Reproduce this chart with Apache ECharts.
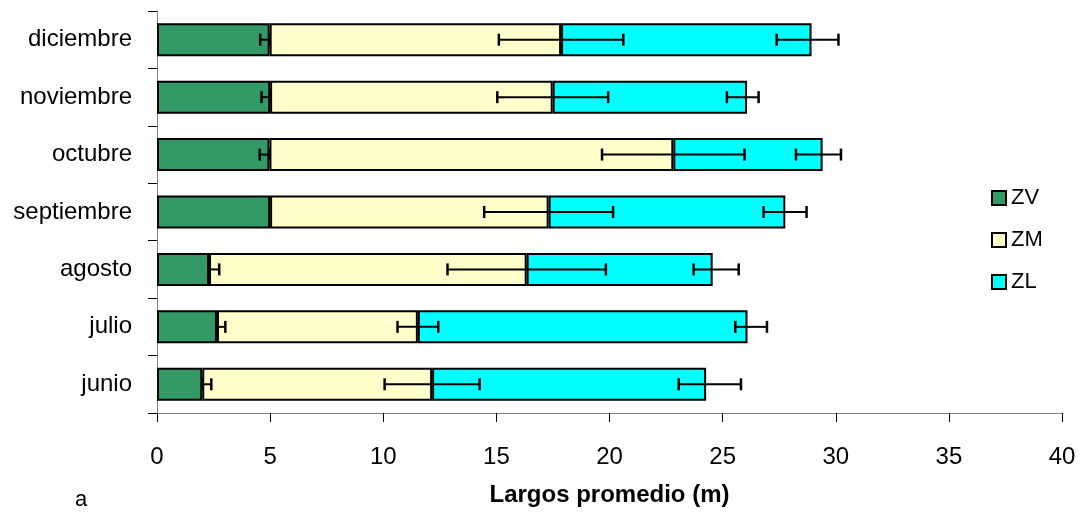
<!DOCTYPE html>
<html>
<head>
<meta charset="utf-8">
<script src="https://cdn.jsdelivr.net/npm/echarts@6/dist/echarts.min.js"></script>
<style>
  html, body { margin: 0; padding: 0; background: #fff; }
  #chart { width: 1082px; height: 512px; }
</style>
</head>
<body>
<div id="chart"></div>
<script>
// Months, bottom to top
const months = ['junio', 'julio', 'agosto', 'septiembre', 'octubre', 'noviembre', 'diciembre'];

// Segment lengths (m) of each zone, stacked left to right
const zv = [2.0, 2.65, 2.3, 5.0, 4.97, 5.0, 4.98];
const zm = [10.16, 8.88, 14.04, 12.31, 17.85, 12.49, 12.88];
const zl = [12.11, 14.57, 8.22, 10.46, 6.6, 8.59, 11.07];

// Error bar extents (m) around the end of each segment: minus / plus
const zvErrMinus = [0, 0, 0, 0, 0.43, 0.38, 0.42];
const zvErrPlus  = [0.4, 0.37, 0.45, 0, 0, 0, 0];
const zmErrMinus = [2.1, 0.9, 3.5, 2.85, 3.15, 2.45, 2.75];
const zmErrPlus  = [2.1, 0.9, 3.5, 2.85, 3.15, 2.45, 2.75];
const zlErrMinus = [1.21, 0.54, 0.84, 0.96, 1.18, 0.89, 1.54];
const zlErrPlus  = [1.54, 0.86, 1.15, 0.94, 0.81, 0.51, 1.19];

const xTicks = { min: 0, max: 40, interval: 5 };

const FONT = "'Liberation Sans Narrow', 'Arial Narrow', 'Liberation Sans', sans-serif";

// cumulative ends of each segment
const endZv = zv.map(v => v);
const endZm = zm.map((v, i) => endZv[i] + v);
const endZl = zl.map((v, i) => endZm[i] + v);

function errData(ends, minus, plus) {
  const out = [];
  ends.forEach((e, i) => {
    if (minus[i] > 0 || plus[i] > 0) out.push([e - minus[i], e + plus[i], i]);
  });
  return out;
}

function renderErr(params, api) {
  const lo = api.coord([api.value(0), api.value(2)]);
  const hi = api.coord([api.value(1), api.value(2)]);
  const h = 6;
  const style = { stroke: '#000', lineWidth: 2 };
  return {
    type: 'group',
    children: [
      { type: 'line', shape: { x1: lo[0], y1: lo[1], x2: hi[0], y2: hi[1] }, style },
      { type: 'line', shape: { x1: lo[0], y1: lo[1] - h, x2: lo[0], y2: lo[1] + h }, style: { stroke: '#000', lineWidth: 2.5 } },
      { type: 'line', shape: { x1: hi[0], y1: hi[1] - h, x2: hi[0], y2: hi[1] + h }, style: { stroke: '#000', lineWidth: 2.5 } }
    ]
  };
}

const barStyle = color => ({ color, borderColor: '#000', borderWidth: 2 });

const chart = echarts.init(document.getElementById('chart'));
chart.setOption({
  animation: false,
  textStyle: { fontFamily: FONT },
  title: {
    text: 'a',
    left: 70,
    top: 484,
    textStyle: { fontFamily: FONT, fontSize: 22, fontWeight: 'normal', color: '#000' }
  },
  grid: { left: 157, right: 20, top: 11, bottom: 98 },
  legend: {
    orient: 'vertical',
    left: 986,
    top: 181,
    itemWidth: 14,
    itemHeight: 14,
    itemGap: 18,
    icon: 'rect',
    data: ['ZV', 'ZM', 'ZL'],
    textStyle: { fontFamily: FONT, fontSize: 22, color: '#000', lineHeight: 24 }
  },
  xAxis: {
    type: 'value',
    min: xTicks.min,
    max: xTicks.max,
    interval: xTicks.interval,
    name: 'Largos promedio (m)',
    nameLocation: 'middle',
    nameGap: 70,
    nameTextStyle: { fontFamily: FONT, fontSize: 24, fontWeight: 'bold', color: '#000' },
    axisLine: { show: true, lineStyle: { color: '#808080', width: 1 } },
    axisTick: { show: true, length: 9, lineStyle: { color: '#000' } },
    axisLabel: { fontFamily: FONT, fontSize: 24, color: '#000', margin: 32 },
    splitLine: { show: false }
  },
  yAxis: {
    type: 'category',
    data: months,
    axisLine: { show: true, lineStyle: { color: '#808080', width: 1 } },
    axisTick: { show: true, length: 9, alignWithLabel: false, lineStyle: { color: '#000' } },
    axisLabel: { fontFamily: FONT, fontSize: 24, color: '#000', margin: 25 }
  },
  series: [
    { name: 'ZV', type: 'bar', stack: 'z', barWidth: 33, data: zv, itemStyle: barStyle('#339966') },
    { name: 'ZM', type: 'bar', stack: 'z', data: zm, itemStyle: barStyle('#FFFFCC') },
    { name: 'ZL', type: 'bar', stack: 'z', data: zl, itemStyle: barStyle('#00FFFF') },
    { type: 'custom', renderItem: renderErr, data: errData(endZv, zvErrMinus, zvErrPlus), z: 5, encode: { x: [0, 1], y: 2 } },
    { type: 'custom', renderItem: renderErr, data: errData(endZm, zmErrMinus, zmErrPlus), z: 5, encode: { x: [0, 1], y: 2 } },
    { type: 'custom', renderItem: renderErr, data: errData(endZl, zlErrMinus, zlErrPlus), z: 5, encode: { x: [0, 1], y: 2 } }
  ]
});
</script>
</body>
</html>
